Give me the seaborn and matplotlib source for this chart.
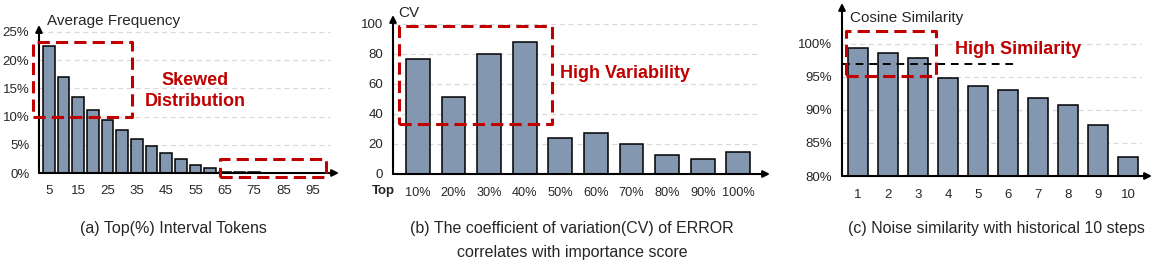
import numpy as np
import matplotlib
matplotlib.use("Agg")
import matplotlib.pyplot as plt
import seaborn as sns

sns.set_style("white")
plt.rcParams["font.family"] = ["Liberation Sans", "DejaVu Sans"]

# panel (a): average frequency of top(%) interval tokens
a_bins = [str(v) for v in range(5, 100, 5)]
a_freq = [22.4, 17.0, 13.5, 11.1, 9.3, 7.6, 6.0, 4.7, 3.6, 2.4, 1.5, 0.8,
          0.2, 0.15, 0.1, 0.08, 0.05, 0.04, 0.03]
a_ticks = ["5", "15", "25", "35", "45", "55", "65", "75", "85", "95"]

# panel (b): CV of error per top% group
b_groups = ["10%", "20%", "30%", "40%", "50%", "60%", "70%", "80%", "90%", "100%"]
b_cv = [76.7, 51.3, 80.0, 88.0, 24.0, 27.3, 20.0, 12.7, 10.3, 14.7]

# panel (c): cosine similarity with historical steps
c_steps = [str(i) for i in range(1, 11)]
c_sim = [99.4, 98.6, 97.9, 94.8, 93.7, 93.0, 91.8, 90.8, 87.7, 82.9]

W, H = 1163, 266
RED = "#C00000"
BAR = "#8497B0"
GRID = "#D9D9D9"

fig = plt.figure(figsize=(W / 100, H / 100), dpi=100)


def rect(l, t, r, b):
    return [l / W, 1 - b / H, (r - l) / W, (b - t) / H]


def ftext(x, y, s, **kw):
    fig.text(x / W, 1 - y / H, s, **kw)


def style_axes(ax, grid_vals, xmax=0.965):
    for sp in ax.spines.values():
        sp.set_visible(False)
    for g in grid_vals:
        ax.axhline(g, xmin=0, xmax=xmax, color=GRID, lw=0.9, ls=(0, (4, 3)), zorder=0)
    ax.annotate("", xy=(1, 0), xytext=(0, 0), xycoords="axes fraction",
                arrowprops=dict(arrowstyle="-|>", color="black", lw=1.5,
                                mutation_scale=10, shrinkA=0, shrinkB=0))
    ax.annotate("", xy=(0, 1), xytext=(0, 0), xycoords="axes fraction",
                arrowprops=dict(arrowstyle="-|>", color="black", lw=1.5,
                                mutation_scale=10, shrinkA=0, shrinkB=0))
    ax.tick_params(axis="both", length=0, labelsize=9.5)
    ax.tick_params(axis="x", pad=9)
    ax.tick_params(axis="y", pad=7)
    ax.set_xlabel("")
    ax.set_ylabel("")
    ax.set_facecolor("none")


def red_box(ax, x0, x1, y0, y1):
    ax.plot([x0, x1, x1, x0, x0], [y0, y0, y1, y1, y0], color=RED, lw=2.2,
            ls=(0, (4, 2)), clip_on=False, zorder=5)


# ---- panel a
ax1 = fig.add_axes(rect(39, 25, 339, 173))
sns.barplot(x=a_bins, y=a_freq, order=a_bins, ax=ax1, color=BAR, saturation=1,
            edgecolor="black", linewidth=1.1, width=0.8, zorder=2)
ax1.set_xlim(-0.68, 19.8)
ax1.set_ylim(0, 26.2)
ax1.set_xticks(range(0, 19, 2))
ax1.set_xticklabels(a_ticks)
ax1.set_yticks([0, 5, 10, 15, 20, 25])
ax1.set_yticklabels(["0%", "5%", "10%", "15%", "20%", "25%"])
style_axes(ax1, [5, 10, 15, 20, 25], xmax=0.97)
red_box(ax1, -1.09, 5.67, 9.9, 23.2)
red_box(ax1, 11.67, 18.9, -0.7, 2.5)
ftext(47, 21, "Average Frequency", fontsize=11, va="center", ha="left")
ftext(195, 91, "Skewed\nDistribution", fontsize=13, color=RED, fontweight="bold",
      ha="center", va="center", linespacing=1.3)

# ---- panel b
ax2 = fig.add_axes(rect(393, 15, 770, 174))
sns.barplot(x=b_groups, y=b_cv, order=b_groups, ax=ax2, color=BAR, saturation=1,
            edgecolor="black", linewidth=1.1, width=0.67, zorder=2)
ax2.set_xlim(-0.70, 9.89)
ax2.set_ylim(0, 106)
ax2.set_yticks([0, 20, 40, 60, 80, 100])
style_axes(ax2, [20, 40, 60, 80, 100], xmax=0.965)
ax2.tick_params(axis="x", labelsize=9.2)
red_box(ax2, -0.53, 3.76, 33.3, 98.7)
ftext(398, 13, "CV", fontsize=11, va="center", ha="left")
ftext(383, 191, "Top", fontsize=9.5, fontweight="bold", ha="center", va="center")
ftext(560, 73, "High Variability", fontsize=13, color=RED, fontweight="bold",
      ha="left", va="center")

# ---- panel c
ax3 = fig.add_axes(rect(842, 3, 1152, 176))
sns.barplot(x=c_steps, y=c_sim, order=c_steps, ax=ax3, color=BAR, saturation=1,
            edgecolor="black", linewidth=1.1, width=0.67, zorder=2)
ax3.set_xlim(-0.53, 9.8)
ax3.set_ylim(80, 106.2)
ax3.set_yticks([80, 85, 90, 95, 100])
ax3.set_yticklabels(["80%", "85%", "90%", "95%", "100%"])
style_axes(ax3, [85, 90, 95, 100], xmax=0.965)
ax3.plot([-0.53, 5.3], [97.0, 97.0], color="black", lw=1.4, ls=(0, (4, 3)),
         zorder=4, clip_on=False)
red_box(ax3, -0.4, 2.6, 95.2, 102.0)
ftext(850, 18, "Cosine Similarity", fontsize=11, va="center", ha="left")
ftext(955, 49, "High Similarity", fontsize=13, color=RED, fontweight="bold",
      ha="left", va="center")

# captions
ftext(173, 228, "(a) Top(%) Interval Tokens", fontsize=11.5, ha="center", va="center")
ftext(572, 228, "(b) The coefficient of variation(CV) of ERROR", fontsize=11.5,
      ha="center", va="center")
ftext(572, 253, "correlates with importance score", fontsize=11.5,
      ha="center", va="center")
ftext(996, 228, "(c) Noise similarity with historical 10 steps", fontsize=11.5,
      ha="center", va="center")

fig.savefig("out.png", dpi=100)
